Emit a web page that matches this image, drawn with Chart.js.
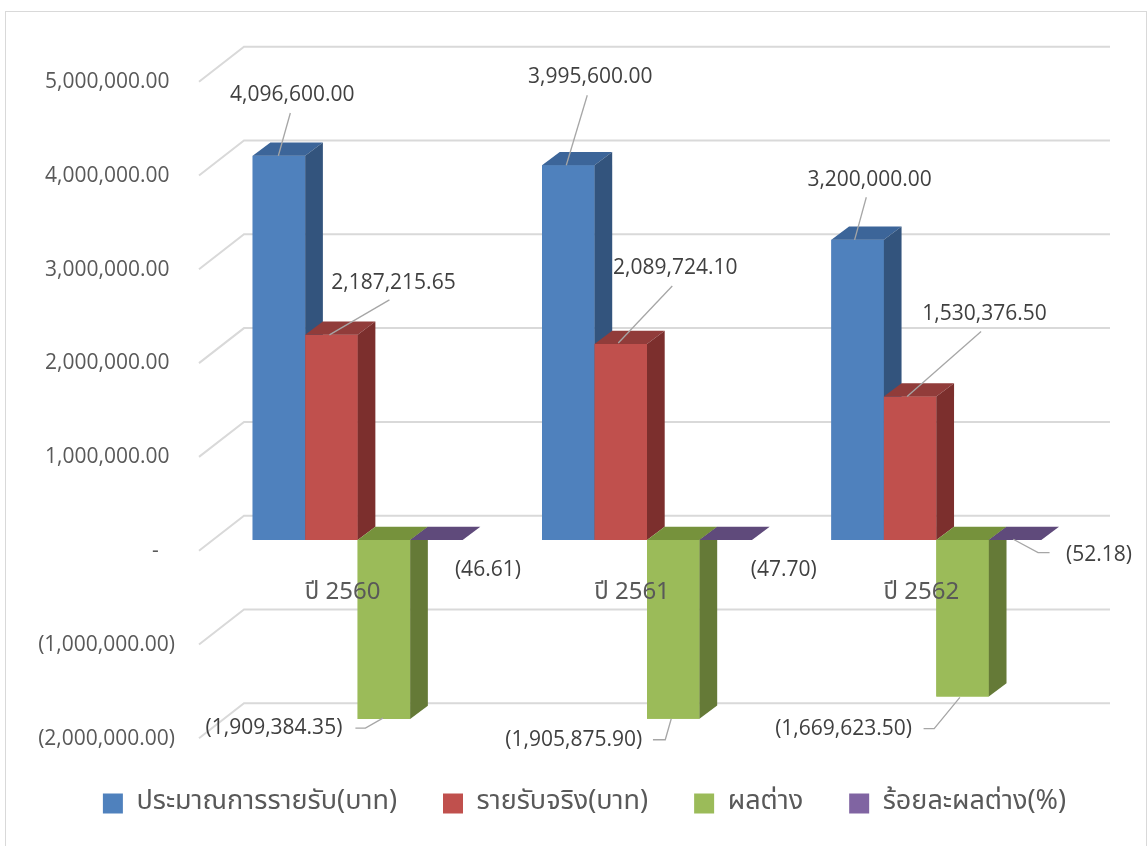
<!DOCTYPE html>
<html>
<head>
<meta charset="utf-8">
<script src="https://cdn.jsdelivr.net/npm/chart.js@4.4.1/dist/chart.umd.min.js"></script>
<style>
  body { margin: 0; background: #fff; overflow: hidden; }
  #frame { position: absolute; left: 5px; top: 11px; width: 1140px; height: 860px; border: 1px solid #d9d9d9; }
  #wrap { position: absolute; left: 0; top: 0; width: 1148px; height: 846px; }
</style>
</head>
<body>
<div id="frame"></div>
<div id="wrap"><canvas id="myChart"></canvas></div>
<script>
// data
const categories = ['ปี 2560', 'ปี 2561', 'ปี 2562']
const seriesNames = ['ประมาณการรายรับ(บาท)', 'รายรับจริง(บาท)', 'ผลต่าง', 'ร้อยละผลต่าง(%)']
const estimate = [4096600.00, 3995600.00, 3200000.00]
const actual = [2187215.65, 2089724.10, 1530376.50]
const diff = [-1909384.35, -1905875.90, -1669623.50]
const diffPct = [-46.61, -47.70, -52.18]
const yTicks = [-2000000, -1000000, 0, 1000000, 2000000, 3000000, 4000000, 5000000]

// colours: front, top, side
const frontColors = ['#4f81bd', '#c0504d', '#9bbb59', '#8064a2']
const topColors = ['#3c6599', '#913c3a', '#76923c', '#5f4a7b']
const sideColors = ['#33547d', '#7c2f2d', '#657a37', '#503e69']

const numFont = "'Open Sans', 'DejaVu Sans', sans-serif"
const thaiFont = "'Noto Sans Thai', Tahoma, 'Liberation Sans', 'Open Sans', sans-serif"

// 3d depth of bars
const DX = 17.7, DY = 13.3

// data label placement, relative to bar end (text centre, leader points)
const labelPos = [
  [ {t: [13.4, -60.7], l: [[11.4, -42.7], [-0.6, 0]]},
    {t: [22, -88], l: [[19, -70], [-2, 0]]},
    {t: [12, -60], l: [[8.7, -42.6], [-3, 0]]} ],
  [ {t: [62, -52], l: [[58, -35], [-2, 0]]},
    {t: [54.5, -76], l: [[51.5, -58], [-2.5, -1]]},
    {t: [74.5, -82.7], l: [[71, -65], [-3, 0]]} ],
  [ {t: [-110, 9], l: [[-28.5, 9], [-18.5, 9], [-1, -1]]},
    {t: [-99.5, 21.7], l: [[-20.3, 21], [-8, 21], [-2, 0]]},
    {t: [-119, 32], l: [[-39, 32], [-28.4, 32], [-2.7, 0.7]]} ],
  [ {t: [51.5, 30], l: []},
    {t: [58, 30], l: []},
    {t: [84, 15], l: [[34.5, 12.7], [23, 12.7], [-1.8, -0.7]]} ]
]

function fmt(v) {
  const s = Math.abs(v).toLocaleString('en-US', {minimumFractionDigits: 2, maximumFractionDigits: 2})
  return v < 0 ? '(' + s + ')' : s
}
function fmtTick(v) {
  if (v == 0) return '-   '
  return v < 0 ? fmt(v) : fmt(v) + ' '
}

// back wall gridlines with the floor diagonal
const gridPlugin = {
  id: 'grid3d',
  afterLayout(chart) {
    // legend sits a bit right of the canvas centre
    chart.legend.left += 44
    chart.legend.right += 44
  },
  beforeDatasetsDraw(chart) {
    const ctx = chart.ctx, y = chart.scales.y, a = chart.chartArea
    ctx.save()
    ctx.strokeStyle = '#d9d9d9'
    ctx.lineWidth = 2
    y.ticks.forEach(t => {
      const py = y.getPixelForValue(t.value)
      ctx.beginPath()
      ctx.moveTo(a.left - 14, py + 10.7)
      ctx.lineTo(a.left + 31, py - 24.3)
      ctx.lineTo(a.right + 29, py - 24.3)
      ctx.stroke()
    })
    ctx.restore()
  }
}

function poly(ctx, pts, color) {
  ctx.beginPath()
  ctx.moveTo(pts[0][0], pts[0][1])
  for (let i = 1; i < pts.length; i++) ctx.lineTo(pts[i][0], pts[i][1])
  ctx.closePath()
  ctx.fillStyle = color
  ctx.fill()
}

// redraw bars series by series (left to right) with top and side faces, then labels
const boxPlugin = {
  id: 'box3d',
  afterDatasetsDraw(chart) {
    const ctx = chart.ctx
    ctx.save()
    chart.data.datasets.forEach((ds, i) => {
      chart.getDatasetMeta(i).data.forEach(el => {
        el.draw(ctx, chart.chartArea)
        const p = el.getProps(['x', 'y', 'base', 'width'], true)
        const l = p.x - p.width / 2, r = p.x + p.width / 2
        const top = Math.min(p.y, p.base), bot = Math.max(p.y, p.base)
        poly(ctx, [[l, top], [r, top], [r + DX, top - DY], [l + DX, top - DY]], topColors[i])
        poly(ctx, [[r, top], [r + DX, top - DY], [r + DX, bot - DY], [r, bot]], sideColors[i])
      })
    })

    chart.data.datasets.forEach((ds, i) => {
      chart.getDatasetMeta(i).data.forEach((el, j) => {
        const pos = labelPos[i][j]
        const ax = el.x, ay = el.y
        if (pos.l.length) {
          ctx.strokeStyle = '#a6a6a6'
          ctx.lineWidth = 1.3
          ctx.beginPath()
          pos.l.forEach((pt, k) => {
            if (k == 0) ctx.moveTo(ax + pt[0], ay + pt[1])
            else ctx.lineTo(ax + pt[0], ay + pt[1])
          })
          ctx.stroke()
        }
        ctx.fillStyle = '#404040'
        ctx.font = '21px ' + numFont
        ctx.textAlign = 'center'
        ctx.textBaseline = 'middle'
        ctx.fillText(fmt(ds.data[j]), ax + pos.t[0], ay + pos.t[1])
      })
    })
    ctx.restore()
  }
}

var ctx = document.getElementById('myChart').getContext('2d')
var chartOne = new Chart(ctx, {
  type: 'bar',
  data: {
    labels: categories,
    datasets: [
      {label: seriesNames[0], data: estimate, backgroundColor: frontColors[0]},
      {label: seriesNames[1], data: actual, backgroundColor: frontColors[1]},
      {label: seriesNames[2], data: diff, backgroundColor: frontColors[2]},
      {label: seriesNames[3], data: diffPct, backgroundColor: frontColors[3]}
    ]
  },
  options: {
    responsive: true,
    maintainAspectRatio: false,
    animation: false,
    datasets: { bar: { barPercentage: 1, categoryPercentage: 0.7256, borderWidth: 0 } },
    layout: { padding: { left: 0, right: 67, top: 71, bottom: 19 } },
    plugins: {
      tooltip: { enabled: false },
      legend: {
        position: 'bottom',
        labels: {
          boxWidth: 20, boxHeight: 20, padding: 46,
          color: '#595959',
          font: { family: thaiFont, size: 27 }
        }
      }
    },
    scales: {
      x: {
        position: { y: 0 },
        grid: { display: false, drawTicks: false },
        border: { display: false },
        ticks: { z: 1, color: '#595959', font: { family: thaiFont, size: 24 }, padding: 40, labelOffset: -15 }
      },
      y: {
        min: -2175000,
        max: 5000000,
        grid: { display: false, drawTicks: false },
        border: { display: false },
        ticks: {
          padding: 38, labelOffset: 11,
          color: '#595959', font: { family: numFont, size: 21 },
          callback: v => fmtTick(v)
        },
        afterBuildTicks(s) { s.ticks = yTicks.map(v => ({value: v})) },
        afterFit(s) { s.width = 213 }
      }
    }
  },
  plugins: [gridPlugin, boxPlugin]
})
</script>
</body>
</html>
